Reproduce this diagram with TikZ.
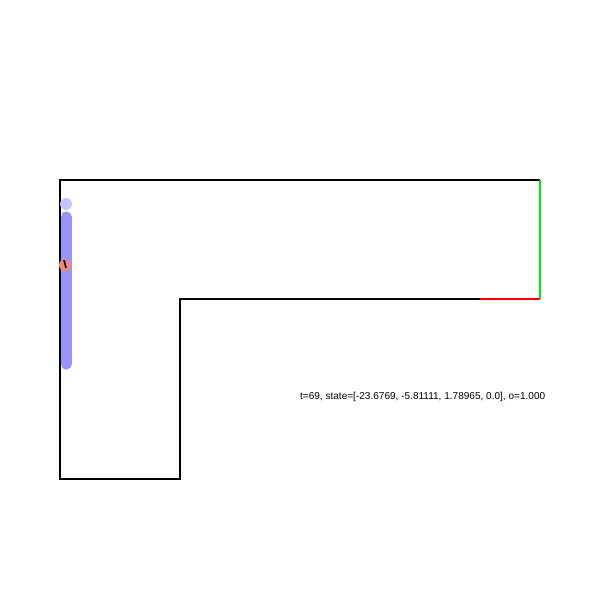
\documentclass[tikz,border=0pt]{standalone}
\usepackage{fontspec}
\setmainfont{Liberation Sans}
\usetikzlibrary{calc}
\definecolor{trailblue}{RGB}{150,150,250}
\definecolor{carred}{RGB}{245,135,120}
\definecolor{goalgreen}{RGB}{0,230,0}
\definecolor{startred}{RGB}{240,0,0}
\tikzset{
  wall/.style   ={line width=2.8pt, black},
  goalline/.style={line width=2.8pt, goalgreen},
  startline/.style={line width=2.8pt, startred},
  trail/.style  ={line width=5.5mm, trailblue, line cap=round},
  ghost/.style  ={circle, fill=trailblue!55, minimum size=6mm, inner sep=0pt},
  car/.style    ={circle, fill=carred, minimum size=6mm, inner sep=0pt},
  statetext/.style={anchor=west, font=\fontsize{14.3}{16}\selectfont, inner sep=0pt},
}
\begin{document}
\begin{tikzpicture}[x=0.5mm,y=-0.5mm]
  \useasboundingbox (0,0) rectangle (600,600);
  % track outline
  \draw[wall] (540,180) -- (60,180) -- (60,479) -- (180,479) -- (180,299) -- (480,299);
  \draw[startline] (480,299) -- (540,299);
  \draw[goalline] (540,299) -- (540,180);
  % trajectory
  \node[ghost] (first) at (66,204) {};
  \draw[trail] (66,217) -- (66,364);
  \node[car] (carpos) at (65,265) {};
  \draw[line width=2.4pt] (64,260) -- (66,268);
  \node[statetext] (state) at (300,397) {t=69, state=[-23.6769, -5.81111, 1.78965, 0.0], o=1.000};
\end{tikzpicture}
\end{document}
